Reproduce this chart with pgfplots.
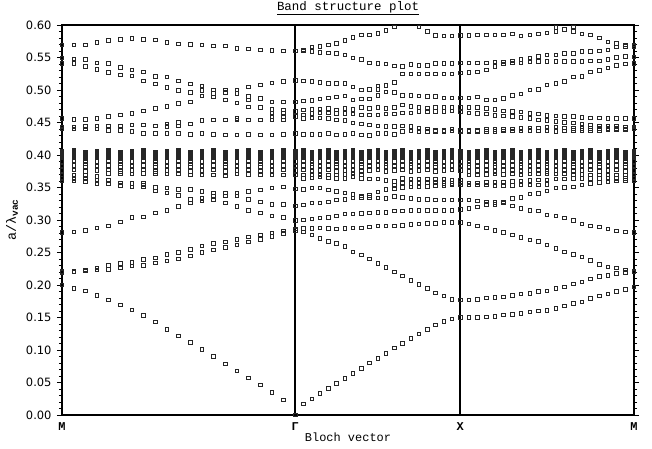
\documentclass[border=0pt]{standalone}
\usepackage{fontspec}
\setmainfont{Liberation Mono}
\newfontfamily\ticksans{DejaVu Sans}
\usepackage{pgfplots}
\usepackage{pgfplotstable}
\pgfplotsset{compat=1.18}

% Photonic band structure along M -> Gamma -> X -> M.
% Each row: k-path position, then the normalized frequencies a/lambda found there
% (upper bands | dense flat bands | 0.35-0.37 bands | lower bands), nan = unused slot.
\pgfplotstableread[header=false]{
0.0000 0.569 0.549 0.541 0.456 0.443 0.440 nan nan nan 0.406 0.403 0.400 0.397 0.390 0.383 0.376 nan 0.369 0.364 0.360 0.281 0.221 0.219 0.200 nan nan
0.0707 0.569 0.548 0.541 0.455 0.443 0.440 nan nan nan 0.407 0.404 0.401 0.398 0.391 0.384 0.377 nan 0.369 0.363 0.360 0.282 0.221 0.220 0.195 nan nan
0.1414 0.569 0.547 0.536 0.455 0.444 0.440 nan nan nan 0.405 0.402 0.399 0.396 0.389 0.382 0.375 0.386 0.369 0.363 0.359 0.284 0.223 0.222 0.191 nan nan
0.2121 0.573 0.542 0.532 0.456 0.445 0.440 nan nan nan 0.406 0.403 0.400 0.397 0.390 0.383 0.376 nan 0.367 0.361 0.356 0.288 0.226 0.223 0.184 nan nan
0.2828 0.576 0.541 0.527 0.459 0.445 0.438 nan nan nan 0.407 0.404 0.401 0.398 0.391 0.384 0.377 nan 0.372 0.361 0.356 0.291 0.230 0.224 0.177 nan nan
0.3536 0.578 0.535 0.523 0.462 0.445 0.438 nan nan nan 0.405 0.402 0.399 0.396 0.389 0.382 0.375 0.386 0.372 0.357 0.353 0.297 0.233 0.226 0.169 nan nan
0.4243 0.579 0.531 0.522 0.464 0.446 0.436 nan nan nan 0.406 0.403 0.400 0.397 0.390 0.383 0.376 nan 0.371 0.356 0.351 0.304 0.235 0.229 0.162 nan nan
0.4950 0.578 0.528 0.514 0.468 0.446 0.433 nan nan nan 0.407 0.404 0.401 0.398 0.391 0.384 0.377 nan 0.372 0.356 0.351 0.305 0.239 0.230 0.153 0.354 nan
0.5657 0.577 0.521 0.509 0.472 0.445 0.433 nan nan nan 0.405 0.402 0.399 0.396 0.389 0.382 0.375 0.386 0.372 0.350 0.345 0.311 0.242 0.234 0.143 nan nan
0.6364 0.573 0.520 0.504 0.475 0.448 0.444 0.433 nan nan 0.406 0.403 0.400 0.397 0.390 0.383 0.376 nan 0.371 0.349 0.342 0.315 0.247 0.237 0.132 nan nan
0.7071 0.571 0.514 0.499 0.479 0.450 0.445 0.433 nan nan 0.407 0.404 0.401 0.398 0.391 0.384 0.377 nan 0.371 0.347 0.338 0.321 0.250 0.240 0.122 nan nan
0.7778 0.570 0.509 0.496 0.482 0.448 0.432 nan nan nan 0.405 0.402 0.399 0.396 0.389 0.382 0.375 0.386 0.369 0.347 0.332 0.326 0.255 0.245 0.112 nan nan
0.8485 0.569 0.506 0.499 0.491 0.453 0.433 nan nan nan 0.406 0.403 0.400 0.397 0.390 0.383 0.376 nan 0.369 0.344 0.333 0.329 0.260 0.250 0.101 nan nan
0.9192 0.568 0.500 0.495 0.489 0.454 0.432 nan nan nan 0.407 0.404 0.401 0.398 0.391 0.384 0.377 nan 0.369 0.342 0.337 0.331 0.264 0.254 0.090 nan nan
0.9899 0.568 0.500 0.496 0.485 0.454 0.431 nan nan nan 0.405 0.402 0.399 0.396 0.389 0.382 0.375 0.386 0.368 0.342 0.337 0.326 0.266 0.258 0.079 nan nan
1.0607 0.564 0.500 0.495 0.480 0.456 0.454 0.431 nan nan 0.406 0.403 0.400 0.397 0.390 0.383 0.376 nan 0.371 0.342 0.337 0.321 0.270 0.262 0.068 nan nan
1.1314 0.563 0.505 0.490 0.485 0.474 0.454 0.432 nan nan 0.407 0.404 0.401 0.398 0.391 0.384 0.377 nan 0.370 0.344 0.332 0.315 0.274 0.266 0.057 nan nan
1.2021 0.562 0.508 0.487 0.473 0.454 0.431 nan nan nan 0.405 0.402 0.399 0.396 0.389 0.382 0.375 0.386 0.370 0.346 0.328 0.311 0.277 0.270 0.046 nan nan
1.2728 0.561 0.511 0.482 0.470 0.464 0.459 0.454 0.431 nan 0.406 0.403 0.400 0.397 0.390 0.383 0.376 nan 0.369 0.349 0.324 0.306 0.280 0.275 0.035 nan nan
1.3435 0.560 0.513 0.482 0.469 0.464 0.459 0.454 0.432 nan 0.407 0.404 0.401 0.398 0.391 0.384 0.377 nan 0.369 0.351 0.324 0.304 0.283 0.279 0.023 nan nan
1.4142 0.560 0.515 0.482 0.467 0.459 0.433 nan nan nan 0.406 0.403 0.400 0.397 0.390 0.383 0.376 nan 0.369 0.348 0.322 0.299 0.286 0.284 0.000 nan nan
}\segMG

\pgfplotstableread[header=false]{
1.4642 0.562 0.560 0.514 0.483 0.469 0.462 0.456 0.432 nan 0.407 0.404 0.401 0.398 0.391 0.384 0.377 nan 0.369 0.364 0.347 0.282 0.287 0.300 0.323 0.017 nan
1.5142 0.566 0.559 0.513 0.484 0.470 0.464 0.457 0.432 nan 0.405 0.402 0.399 0.396 0.389 0.382 0.375 0.386 0.370 0.365 0.349 0.277 0.287 0.302 0.326 0.025 nan
1.5642 0.567 0.558 0.512 0.486 0.471 0.465 0.457 0.432 nan 0.406 0.403 0.400 0.397 0.390 0.383 0.376 nan 0.369 0.366 0.349 0.272 0.288 0.303 0.326 0.033 nan
1.6142 0.569 0.557 0.510 0.488 0.472 0.465 0.456 0.433 nan 0.407 0.404 0.401 0.398 0.391 0.384 0.377 nan 0.369 0.365 0.346 0.267 0.287 0.304 0.328 0.041 nan
1.6642 0.572 0.556 0.510 0.489 0.469 0.464 0.454 0.431 nan 0.405 0.402 0.399 0.396 0.389 0.382 0.375 0.386 0.369 0.364 0.344 0.264 0.286 0.306 0.331 0.049 nan
1.7142 0.576 0.554 0.510 0.491 0.472 0.464 0.453 0.432 nan 0.406 0.403 0.400 0.397 0.390 0.383 0.376 nan 0.370 0.364 0.342 0.259 0.287 0.309 0.332 0.056 nan
1.7642 0.581 0.549 0.505 0.485 0.470 0.463 0.449 0.433 nan 0.407 0.404 0.401 0.398 0.391 0.384 0.377 nan 0.371 0.367 0.339 0.251 0.288 0.309 0.334 0.064 nan
1.8142 0.585 0.547 0.500 0.486 0.473 0.462 0.448 0.431 nan 0.405 0.402 0.399 0.396 0.389 0.382 0.375 0.386 0.370 0.364 0.337 0.246 0.288 0.310 0.335 0.072 nan
1.8642 0.585 0.542 0.501 0.486 0.472 0.462 0.446 0.430 nan 0.406 0.403 0.400 0.397 0.390 0.383 0.376 nan 0.363 nan 0.338 0.240 0.289 0.311 0.335 0.080 nan
1.9142 0.587 0.541 0.506 0.501 0.492 0.473 0.462 0.445 0.433 0.407 0.404 0.401 0.398 0.391 0.384 0.377 nan 0.363 nan 0.343 0.233 0.291 0.312 0.334 0.087 nan
1.9642 0.592 0.540 0.507 0.497 0.472 0.463 0.444 0.433 nan 0.405 0.402 0.399 0.396 0.389 0.382 0.375 0.386 0.361 nan 0.347 0.227 0.291 0.312 0.333 0.095 nan
2.0142 0.597 0.537 0.512 0.496 0.473 0.463 0.444 0.432 nan 0.406 0.403 0.400 0.397 0.390 0.383 0.376 nan 0.359 0.354 0.348 0.220 0.291 0.314 0.336 0.103 nan
2.0642 0.536 0.525 0.492 0.477 0.465 0.445 0.436 nan nan 0.407 0.404 0.401 0.398 0.391 0.384 0.377 nan 0.364 0.357 0.350 0.214 0.292 0.314 0.335 0.110 nan
2.1142 0.539 0.525 0.492 0.475 0.465 0.444 0.437 nan nan 0.405 0.402 0.399 0.396 0.389 0.382 0.375 0.386 0.363 0.356 0.351 0.207 0.293 0.315 0.333 0.118 nan
2.1642 0.597 0.538 0.525 0.491 0.473 0.467 0.441 0.436 nan 0.406 0.403 0.400 0.397 0.390 0.383 0.376 nan 0.363 0.356 0.352 0.201 0.294 0.315 0.332 0.125 nan
2.2142 0.590 0.538 0.525 0.490 0.472 0.467 0.440 0.436 nan 0.407 0.404 0.401 0.398 0.391 0.384 0.377 nan 0.363 0.357 0.352 0.195 0.295 0.315 0.332 0.132 nan
2.2642 0.584 0.541 0.525 0.490 0.473 0.467 0.438 0.436 nan 0.405 0.402 0.399 0.396 0.389 0.382 0.375 0.386 0.363 0.357 0.353 0.188 0.295 0.315 0.331 0.139 nan
2.3142 0.583 0.541 0.525 0.488 0.473 0.467 0.438 0.436 nan 0.406 0.403 0.400 0.397 0.390 0.383 0.376 nan 0.363 0.356 0.353 0.183 0.296 0.315 0.331 0.144 nan
2.3642 0.583 0.541 0.525 0.488 0.473 0.468 0.440 0.437 nan 0.407 0.404 0.401 0.398 0.391 0.384 0.377 nan 0.362 0.356 0.354 0.178 0.296 0.315 0.331 0.148 nan
2.4142 0.584 0.542 0.526 0.488 0.473 0.466 0.438 0.436 nan 0.406 0.403 0.400 0.397 0.390 0.383 0.376 nan 0.362 0.357 0.354 0.177 0.296 0.316 0.331 0.150 nan
}\segGX

\pgfplotstableread[header=false]{
2.4669 0.584 nan 0.542 0.527 0.488 0.473 0.465 0.438 0.436 0.405 0.402 0.399 0.396 0.389 0.382 0.375 0.386 0.369 0.357 0.354 0.331 0.318 0.294 0.177 0.150 nan
2.5196 0.585 nan 0.542 0.528 0.489 0.473 0.464 0.438 0.436 0.406 0.403 0.400 0.397 0.390 0.383 0.376 nan 0.369 0.357 0.354 0.329 0.320 0.291 0.178 0.150 nan
2.5723 0.585 nan 0.542 0.531 0.485 0.472 0.463 0.439 0.436 0.407 0.404 0.401 0.398 0.391 0.384 0.377 nan 0.370 0.358 0.354 0.328 0.324 0.288 0.180 0.151 nan
2.6250 0.585 nan 0.543 0.536 0.485 0.470 0.461 0.439 0.436 0.405 0.402 0.399 0.396 0.389 0.382 0.375 0.386 0.371 0.358 0.353 0.327 0.324 0.284 0.181 0.152 nan
2.6777 0.585 nan 0.543 0.540 0.487 0.468 0.460 0.439 0.437 0.406 0.403 0.400 0.397 0.390 0.383 0.376 nan 0.370 0.358 0.353 0.328 0.326 0.281 0.182 0.154 nan
2.7304 0.586 nan 0.542 0.545 0.492 0.467 0.459 0.440 0.437 0.407 0.404 0.401 0.398 0.391 0.384 0.377 nan 0.371 0.359 0.353 0.333 0.322 0.277 0.184 0.155 nan
2.7831 0.583 nan 0.542 0.547 0.494 0.466 0.458 0.441 0.437 0.405 0.402 0.399 0.396 0.389 0.382 0.375 0.386 0.370 0.360 0.354 0.335 0.318 0.273 0.186 0.156 nan
2.8358 0.585 nan 0.543 0.549 0.500 0.464 0.456 0.442 0.438 0.406 0.403 0.400 0.397 0.390 0.383 0.376 nan 0.371 0.361 0.354 0.340 0.315 0.269 0.187 0.159 nan
2.8885 0.586 nan 0.544 0.552 0.501 0.463 0.454 0.442 0.437 0.407 0.404 0.401 0.398 0.391 0.384 0.377 nan 0.371 0.362 0.354 0.341 0.314 0.267 0.190 0.160 nan
2.9412 0.588 nan 0.544 0.554 0.508 0.461 0.453 0.443 0.437 0.405 0.402 0.399 0.396 0.389 0.382 0.375 0.386 0.372 0.362 0.355 0.345 0.308 0.262 0.191 0.161 nan
2.9939 0.596 0.590 0.544 0.554 0.510 0.460 0.452 0.443 0.436 0.406 0.403 0.400 0.397 0.390 0.383 0.376 nan 0.371 0.363 nan 0.349 0.306 0.256 0.195 0.164 nan
3.0466 0.593 nan 0.544 0.556 0.513 0.459 0.450 0.442 0.437 0.407 0.404 0.401 0.398 0.391 0.384 0.377 nan 0.371 0.363 nan 0.350 0.303 0.251 0.197 0.168 nan
3.0993 0.597 0.590 0.544 0.556 0.520 0.459 0.449 0.441 0.438 0.405 0.402 0.399 0.396 0.389 0.382 0.375 0.386 0.370 0.364 nan 0.351 0.299 0.247 0.202 0.172 nan
3.1520 0.586 nan 0.544 0.559 0.521 0.458 0.448 0.441 0.438 0.406 0.403 0.400 0.397 0.390 0.383 0.376 nan 0.370 0.364 nan 0.354 0.294 0.243 0.205 0.174 nan
3.2047 0.585 nan 0.545 0.559 0.528 0.457 0.446 0.441 0.438 0.407 0.404 0.401 0.398 0.391 0.384 0.377 nan 0.369 0.364 nan 0.356 0.291 0.238 0.209 0.179 nan
3.2574 0.580 nan 0.545 0.560 0.530 0.457 0.445 0.441 0.438 0.405 0.402 0.399 0.396 0.389 0.382 0.375 0.386 0.369 0.364 nan 0.358 0.289 0.232 0.213 0.183 nan
3.3101 0.574 nan 0.547 0.562 0.534 0.456 0.444 0.441 0.439 0.406 0.403 0.400 0.397 0.390 0.383 0.376 nan 0.369 0.364 nan 0.359 0.286 0.228 0.215 0.186 nan
3.3628 0.572 nan 0.550 0.566 0.538 0.456 0.444 0.441 0.439 0.407 0.404 0.401 0.398 0.391 0.384 0.377 nan 0.369 0.364 nan 0.360 0.283 0.226 0.218 0.190 nan
3.4155 0.569 nan 0.552 0.567 0.540 0.456 0.443 0.440 0.439 0.405 0.402 0.399 0.396 0.389 0.382 0.375 0.386 0.369 0.364 nan 0.361 0.282 0.223 0.219 0.193 nan
3.4682 0.569 nan 0.551 0.567 0.541 0.456 0.443 0.441 0.440 0.406 0.403 0.400 0.397 0.390 0.383 0.376 nan 0.369 0.364 nan 0.360 0.281 0.221 0.220 0.197 nan
}\segXM

\pgfplotsset{
  bandpt/.style={only marks, mark=square, mark size=1.75bp,
    mark options={solid, line width=0.8bp, draw=black!85}},
  % tightly packed flat bands near 0.40 merge into solid bars
  bandpack/.style={only marks, mark=square*, mark size=1.75bp,
    mark options={solid, line width=0.8bp, draw=black!85, fill=black!85}},
}

\begin{document}
\begin{tikzpicture}
\useasboundingbox (-62bp,-34bp) rectangle (590bp,415bp);
\begin{axis}[
  at={(0,0)}, anchor=south west,
  scale only axis, width=572bp, height=390bp,
  xmin=0, xmax=3.4682, ymin=0, ymax=0.6,
  axis line style={line width=1.6bp},
  xtick={0,1.4142,2.4142,3.4682},
  xticklabels={M,Γ,X,M},
  xtick style={draw=none},
  xticklabel style={font=\bfseries\fontsize{12}{13}\selectfont, yshift=1bp},
  ytick={0,0.05,0.1,0.15,0.2,0.25,0.3,0.35,0.4,0.45,0.5,0.55,0.6},
  minor y tick num=4,
  ytick pos=both, yticklabel pos=left,
  tick align=outside,
  major tick length=5bp, minor tick length=3bp,
  ytick style={line width=0.9bp, black},
  minor y tick style={line width=0.7bp},
  /pgf/number format/assume math mode=true,
  yticklabel style={font=\ticksans\fontsize{11.5}{12}\selectfont, xshift=-2bp,
    /pgf/number format/.cd, fixed, fixed zerofill, precision=2},
  title={\underline{Band structure plot}},
  title style={font=\fontsize{12.5}{14}\selectfont, at={(axis description cs:0.5,1)}, anchor=center, yshift=11bp},
  xlabel={Bloch vector},
  xlabel style={font=\fontsize{12}{14}\selectfont, at={(axis description cs:0.5,0)}, anchor=center, yshift=-22bp},
  ylabel={a/λ\textsubscript{\bfseries vac}},
  ylabel style={font=\fontsize{13.5}{15}\selectfont, at={(axis description cs:-0.0874,0.5)}, anchor=center},
]
\pgfplotsinvokeforeach{1,...,9,14,15,...,26}{
  \addplot[bandpt] table[x index=0, y index=#1] {\segMG};
  \addplot[bandpt] table[x index=0, y index=#1] {\segGX};
  \addplot[bandpt] table[x index=0, y index=#1] {\segXM};
}
\pgfplotsinvokeforeach{10,...,13}{
  \addplot[bandpack] table[x index=0, y index=#1] {\segMG};
  \addplot[bandpack] table[x index=0, y index=#1] {\segGX};
  \addplot[bandpack] table[x index=0, y index=#1] {\segXM};
}
% symmetry points Gamma and X
\draw[line width=1.7bp] (axis cs:1.4142,0) -- (axis cs:1.4142,0.6);
\draw[line width=1.7bp] (axis cs:2.4142,0) -- (axis cs:2.4142,0.6);
\end{axis}
\end{tikzpicture}
\end{document}
